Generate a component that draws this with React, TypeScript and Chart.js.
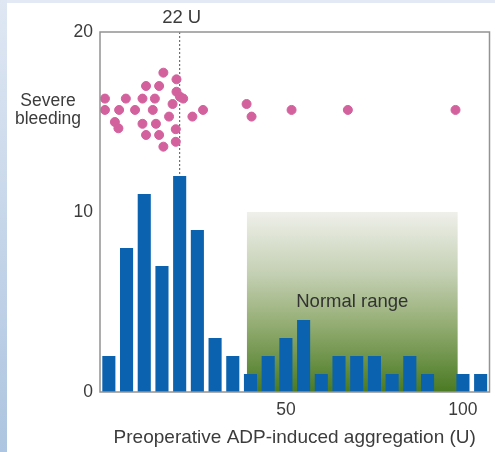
import React, { useEffect, useRef } from "react";
import { Chart, registerables } from "chart.js";

Chart.register(...registerables);

// ---- data ----
const BIN_CENTERS = [0, 5, 10, 15, 20, 25, 30, 35, 40, 45, 50, 55, 60, 65, 70, 75, 80, 85, 90, 95, 100, 105];
const COUNTS = [2, 8, 11, 7, 12, 9, 3, 2, 1, 2, 3, 4, 1, 2, 2, 2, 1, 2, 1, 0, 1, 1];

const BLEED_X = [-1.1, -1.1, 2.9, 4.8, 1.7, 2.7, 7.4, 9.5, 10.5, 9.5, 10.5, 12.4, 13.0, 13.3, 14.2, 14.2, 15.4, 15.4, 17.0, 18.0, 19.1, 19.1, 20.1, 21.0, 18.9, 18.9, 23.6, 26.6, 38.9, 40.3, 51.6, 67.5, 97.9];
const BLEED_Y = [16.3, 15.67, 15.67, 16.3, 15.0, 14.65, 15.67, 16.3, 17.0, 14.9, 14.28, 15.67, 16.3, 14.9, 17.0, 14.28, 17.74, 13.63, 15.3, 16.0, 17.37, 16.68, 16.4, 16.3, 14.6, 13.9, 15.3, 15.67, 16.0, 15.3, 15.67, 15.67, 15.67];

const X_TICKS = [50, 100];
const Y_TICKS = [0, 10, 20];
const NORMAL_RANGE_X = [39, 98.5];
const NORMAL_RANGE_TOP = 10;
const CUTOFF = 20;
const CUTOFF_LABEL = "22 U";
const BLEED_LABEL = ["Severe", "bleeding"];
const BLEED_LABEL_LEVEL = 15.56;
const NORMAL_LABEL = "Normal range";
const X_TITLE = "Preoperative ADP-induced aggregation (U)";

const FONT = '"Liberation Sans", Arial, Helvetica, sans-serif';
const TEXT = "#3c3c3c";

const overlay = {
  id: "overlay",
  beforeDatasetsDraw(chart: any) {
    const { ctx, chartArea } = chart;
    const xs = chart.scales.x;
    const ys = chart.scales.y;
    const x0 = xs.getPixelForValue(NORMAL_RANGE_X[0]);
    const x1 = xs.getPixelForValue(NORMAL_RANGE_X[1]);
    const yt = ys.getPixelForValue(NORMAL_RANGE_TOP);
    const yb = ys.getPixelForValue(0);
    ctx.save();
    const g = ctx.createLinearGradient(0, yt, 0, yb);
    g.addColorStop(0, "#eff0ea");
    g.addColorStop(0.35, "#c3cfb2");
    g.addColorStop(0.6, "#98b078");
    g.addColorStop(1, "#4a7a22");
    ctx.fillStyle = g;
    ctx.fillRect(x0, yt, x1 - x0, yb - yt);
    ctx.fillStyle = "#333";
    ctx.font = `18.5px ${FONT}`;
    ctx.textAlign = "center";
    ctx.textBaseline = "middle";
    ctx.fillText(NORMAL_LABEL, (x0 + x1) / 2, ys.getPixelForValue(NORMAL_RANGE_TOP / 2));
    // cutoff dotted line
    const cx = xs.getPixelForValue(CUTOFF);
    ctx.strokeStyle = "#555";
    ctx.lineWidth = 1;
    ctx.setLineDash([2, 2]);
    ctx.beginPath();
    ctx.moveTo(cx, chartArea.top);
    ctx.lineTo(cx, chartArea.bottom);
    ctx.stroke();
    ctx.restore();
  },
  afterDatasetsDraw(chart: any) {
    const { ctx, chartArea } = chart;
    const xs = chart.scales.x;
    const ys = chart.scales.y;
    ctx.save();
    ctx.strokeStyle = "#939393";
    ctx.lineWidth = 1.5;
    ctx.strokeRect(chartArea.left, chartArea.top, chartArea.right - chartArea.left, chartArea.bottom - chartArea.top);
    ctx.fillStyle = TEXT;
    ctx.font = `18.5px ${FONT}`;
    ctx.textAlign = "center";
    ctx.textBaseline = "alphabetic";
    ctx.fillText(CUTOFF_LABEL, xs.getPixelForValue(CUTOFF) + 2, chartArea.top - 9);
    ctx.font = `17.5px ${FONT}`;
    const ly = ys.getPixelForValue(BLEED_LABEL_LEVEL);
    ctx.fillText(BLEED_LABEL[0], 48, ly - 6);
    ctx.fillText(BLEED_LABEL[1], 48, ly + 12);
    ctx.restore();
  },
};

export default function App() {
  const ref = useRef<HTMLCanvasElement | null>(null);
  useEffect(() => {
    if (!ref.current) return;
    const chart = new Chart(ref.current, {
      type: "bar",
      data: {
        datasets: [
          {
            type: "scatter",
            data: BLEED_X.map((x, i) => ({ x, y: BLEED_Y[i] })),
            backgroundColor: "#d2619d",
            borderColor: "#d2619d",
            pointRadius: 4.5,
            order: 0,
          } as any,
          {
            type: "bar",
            data: BIN_CENTERS.map((x, i) => ({ x, y: COUNTS[i] })),
            backgroundColor: "#0b63b0",
            borderWidth: 0,
            barPercentage: 0.74,
            categoryPercentage: 1,
            order: 1,
          } as any,
        ],
      },
      options: {
        responsive: false,
        animation: false,
        devicePixelRatio: 1,
        layout: { padding: { left: 0, top: 32, right: 5, bottom: 0 } },
        plugins: { legend: { display: false }, tooltip: { enabled: false } },
        scales: {
          x: {
            type: "linear",
            min: -2.5,
            max: 107.5,
            offset: false,
            grid: { display: false, drawTicks: false, offset: false },
            border: { display: false },
            afterBuildTicks: (s: any) => {
              s.ticks = X_TICKS.map((v) => ({ value: v }));
            },
            afterFit: (s: any) => {
              s.height = 60;
            },
            ticks: { color: TEXT, font: { family: FONT, size: 17.5 }, padding: 8, maxRotation: 0 },
            title: {
              display: true,
              text: X_TITLE,
              color: TEXT,
              font: { family: FONT, size: 19 },
              padding: { top: 4, bottom: 3 },
            },
          },
          y: {
            type: "linear",
            min: 0,
            max: 20,
            grid: { display: false, drawTicks: false },
            border: { display: false },
            afterBuildTicks: (s: any) => {
              s.ticks = Y_TICKS.map((v) => ({ value: v }));
            },
            afterFit: (s: any) => {
              s.width = 100;
            },
            ticks: { color: TEXT, font: { family: FONT, size: 17.5 }, padding: 7 },
          },
        },
      },
      plugins: [overlay],
    });
    return () => chart.destroy();
  }, []);

  return (
    <div style={{ position: "fixed", left: 0, top: 0, width: 495, height: 452, background: "#ffffff", overflow: "hidden" }}>
      <div style={{ position: "absolute", left: 0, top: 0, width: 7, height: 452, background: "linear-gradient(#dfe7f3, #adc5e0)" }} />
      <div style={{ position: "absolute", left: 7, top: 0, width: 488, height: 3, background: "#e3eaf5" }} />
      <canvas ref={ref} width={495} height={452} style={{ position: "absolute", left: 0, top: 0 }} />
    </div>
  );
}
